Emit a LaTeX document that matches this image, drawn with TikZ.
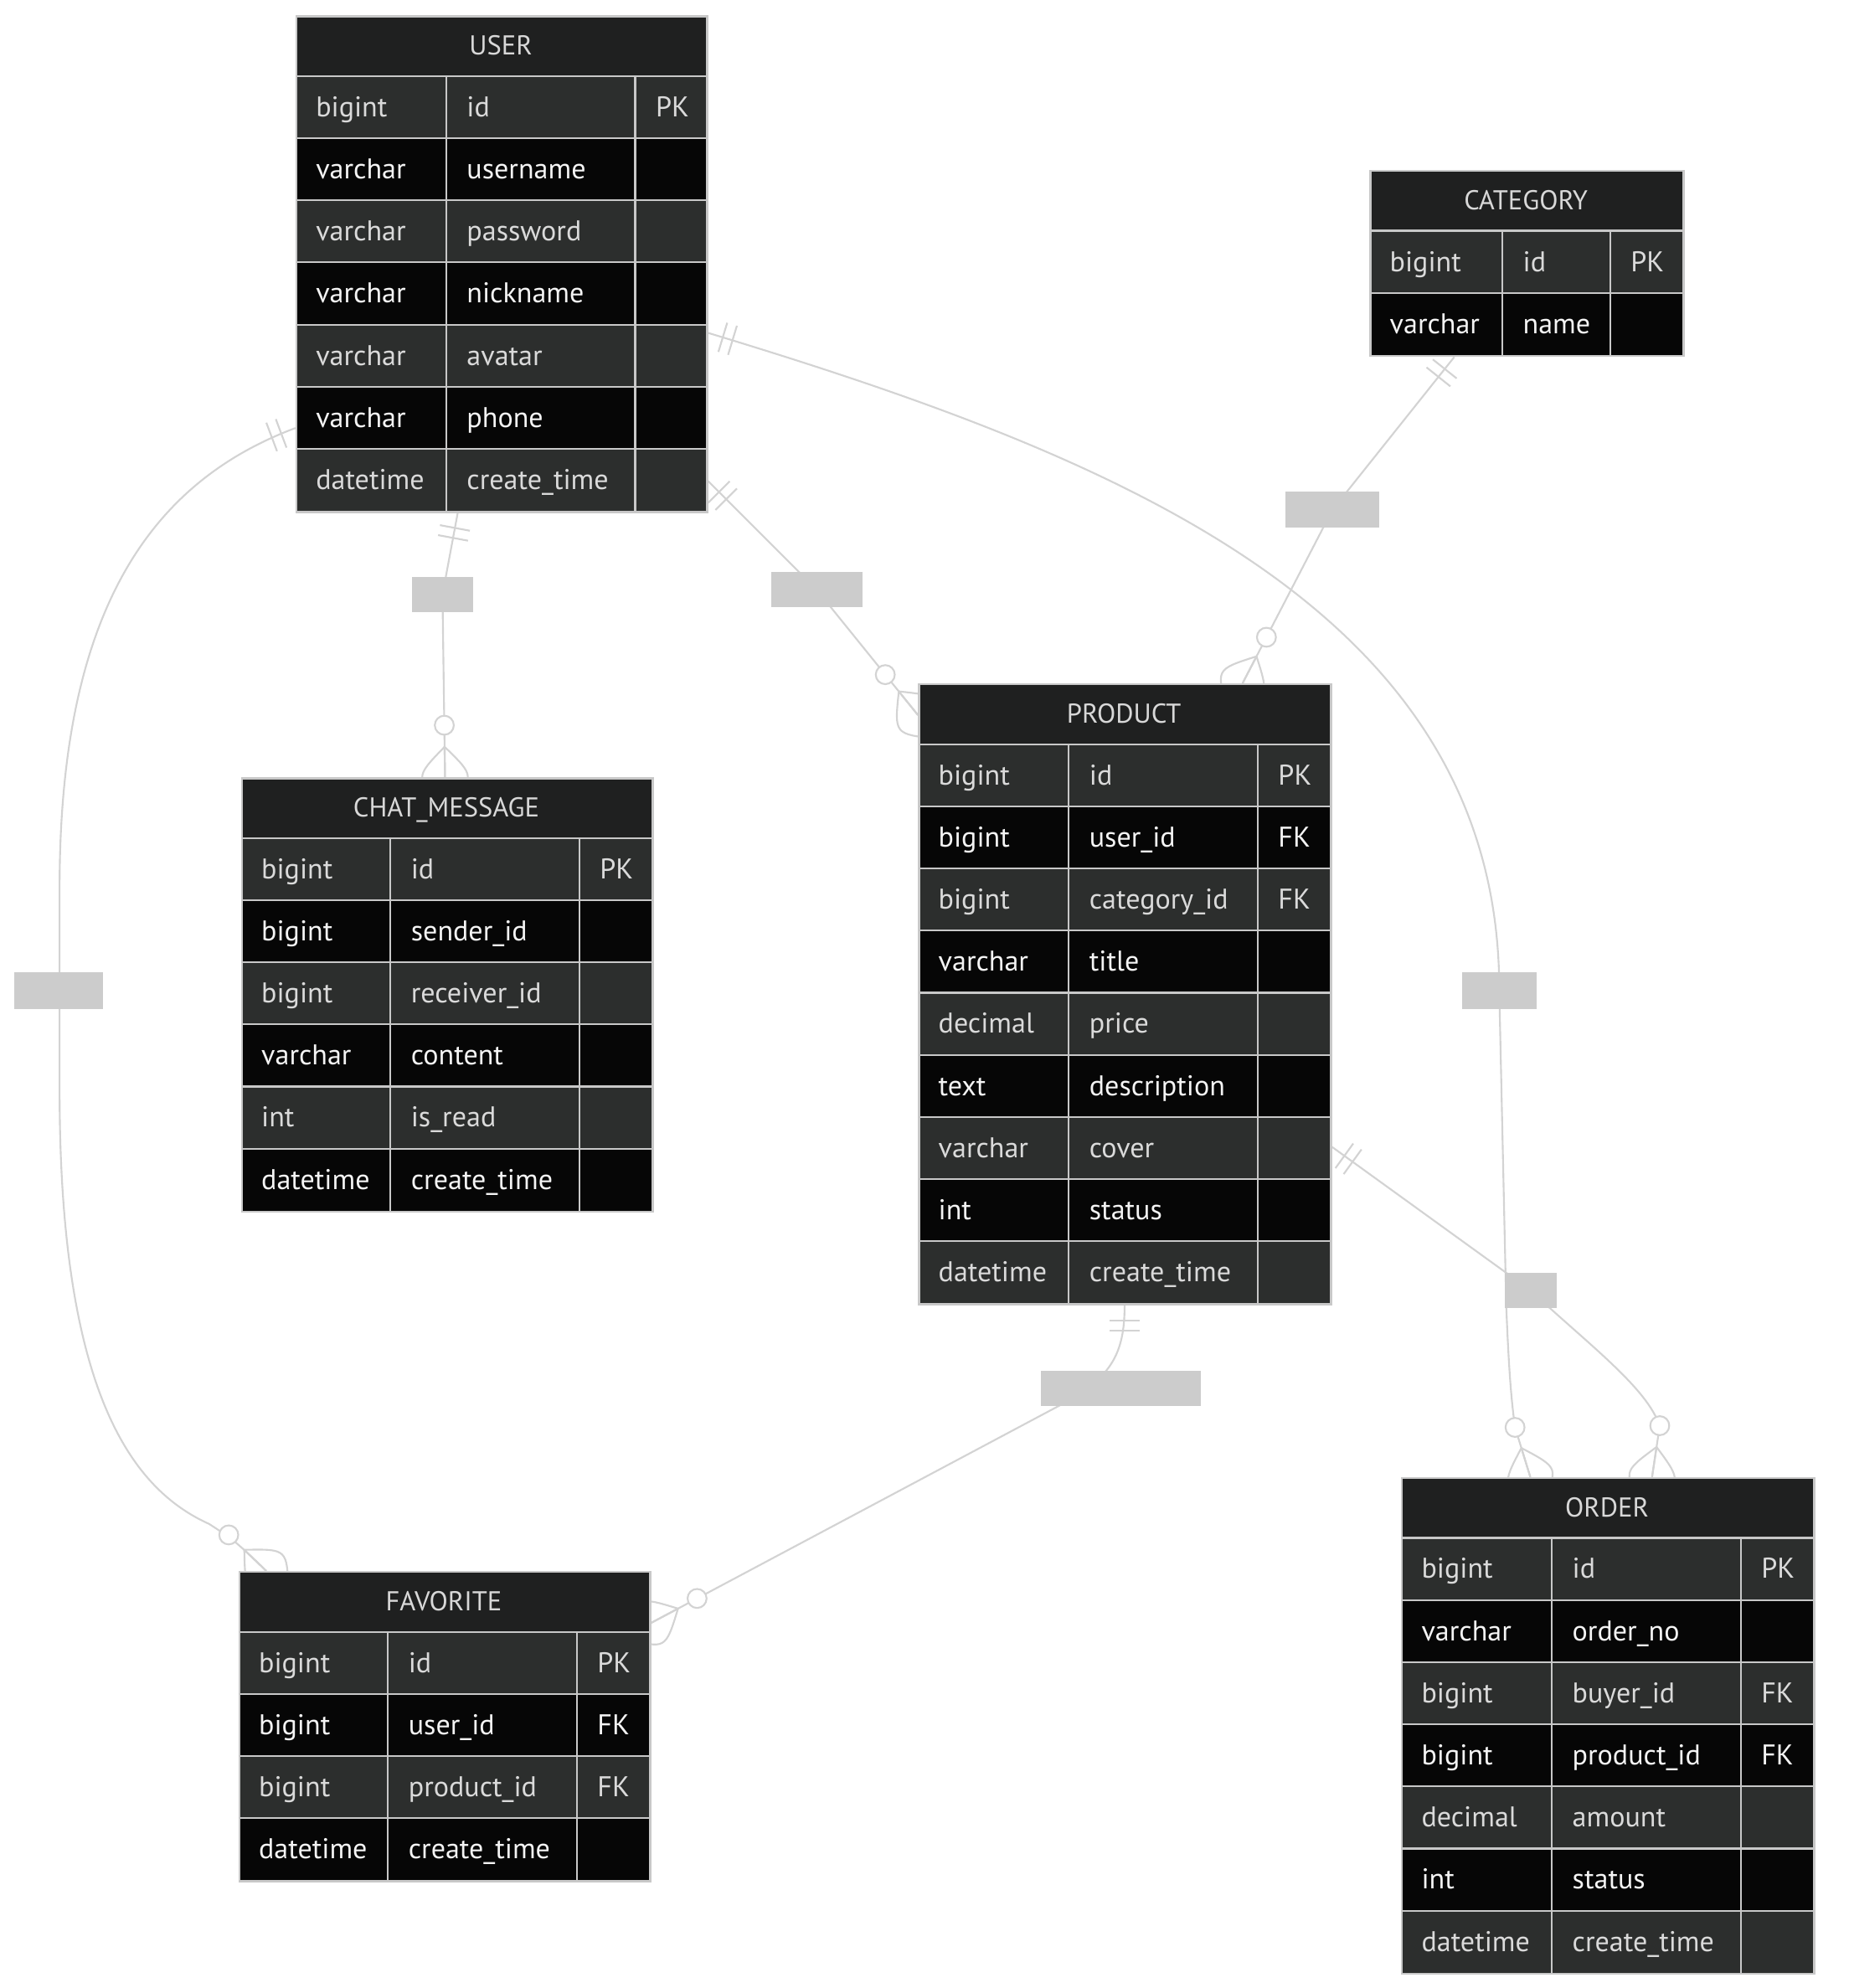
\documentclass[tikz,border=0pt]{standalone}
\usepackage{fontspec}
\setmainfont{PT Sans}
\usetikzlibrary{calc}
\pgfdeclarelayer{back}
\pgfdeclarelayer{bg}
\pgfsetlayers{back,bg,main}
\definecolor{hdrbg}{HTML}{1F2020}
\definecolor{oddbg}{HTML}{2C2E2D}
\definecolor{evenbg}{HTML}{060606}
\definecolor{bordc}{HTML}{C8C8C8}
\definecolor{edgec}{HTML}{D3D3D3}
\definecolor{lblc}{HTML}{CCCCCC}
\definecolor{txtodd}{HTML}{DADADA}
\definecolor{txteven}{HTML}{F4F4F4}
\definecolor{ttlc}{HTML}{D8D8D8}
\tikzset{
  conn/.style={draw=edgec, line width=1.4pt},
  gridline/.style={draw=bordc, line width=1.4pt},
  tbox/.style={draw=bordc, line width=1.6pt, inner sep=0pt, rectangle},
  celltxt/.style={font=\fontsize{22.5}{27}\selectfont, inner sep=0pt, anchor=mid west},
  ttl/.style={font=\fontsize{21.5}{26}\selectfont, text=ttlc, inner sep=0pt, anchor=mid},
  lbl/.style={rectangle, fill=lblc, draw=none, inner sep=0pt}
}
\newcommand{\ertable}[9]{%
  \pgfmathsetmacro\tblw{#6-#2}%
  \pgfmathsetmacro\tblh{48+49*#7}%
  \pgfmathsetmacro\tblb{#3+\tblh}%
  \fill[hdrbg] (#2,#3) rectangle (#6,#3+48);
  \foreach \ta/\tb/\tc [count=\i] in {#9}{%
    \pgfmathsetmacro\yt{#3+48+49*(\i-1)}%
    \ifodd\i \def\rowbg{oddbg}\def\rowtx{txtodd}\else \def\rowbg{evenbg}\def\rowtx{txteven}\fi
    \fill[fill=\rowbg] (#2,\yt) rectangle (#6,\yt+49);
    \node[celltxt, text=\rowtx] (#1-a\i) at (#2+16,\yt+29.5) {\ta};
    \node[celltxt, text=\rowtx] (#1-b\i) at (#4+16,\yt+29.5) {\tb};
    \node[celltxt, text=\rowtx] (#1-c\i) at (#5+16,\yt+29.5) {\tc};
    \draw[gridline] (#2,\yt) -- (#6,\yt);
  }
  \draw[gridline] (#4,#3+48) -- (#4,\tblb);
  \draw[gridline] (#5,#3+48) -- (#5,\tblb);
  \node[tbox, minimum width=\tblw pt, minimum height=\tblh pt, anchor=north west] (#1) at (#2,#3) {};
  \node[ttl] (#1-title) at ({(#2+#6)/2},#3+29) {#8};
}
\newcommand{\onlyone}[2]{%
  \coordinate (mkd) at #2;
  \coordinate (mka) at ($(#1)!12pt!(mkd)$);
  \coordinate (mkb) at ($(#1)!20pt!(mkd)$);
  \draw[conn] ($(mka)!12pt!90:(mkd)$) -- ($(mka)!12pt!-90:(mkd)$);
  \draw[conn] ($(mkb)!12pt!90:(mkd)$) -- ($(mkb)!12pt!-90:(mkd)$);
}
\newcommand{\zeromany}[2]{%
  \coordinate (mkd) at #2;
  \coordinate (mka) at ($(#1)!24pt!(mkd)$);
  \coordinate (mkf) at ($(#1)!-24pt!(mkd)$);
  \draw[conn] (mka) .. controls ($(#1)!24pt!90:(mkd)$) .. (mkf);
  \draw[conn] (mka) .. controls ($(#1)!24pt!-90:(mkd)$) .. (mkf);
  \draw[conn] (mka) -- (#1);
  \draw[conn, fill=white] ($(#1)!41pt!(mkd)$) circle[radius=7.5pt];
}
\begin{document}
\begin{tikzpicture}[x=1pt,y=-1pt]
\useasboundingbox (0,0) rectangle (1458,1568);
\begin{pgfonlayer}{back}
  \fill[white] (0,0) rectangle (1458,1568);
\end{pgfonlayer}

% ---------- tables ----------
\ertable{USER}{233}{12}{352}{501}{557}{7}{USER}{bigint/id/PK, varchar/username/{}, varchar/password/{}, varchar/nickname/{}, varchar/avatar/{}, varchar/phone/{}, datetime/create\_time/{}}
\ertable{CATEGORY}{1080}{134}{1185}{1270}{1327}{2}{CATEGORY}{bigint/id/PK, varchar/name/{}}
\ertable{CHAT}{190}{613}{308}{457}{514}{6}{CHAT\_MESSAGE}{bigint/id/PK, bigint/sender\_id/{}, bigint/receiver\_id/{}, varchar/content/{}, int/is\_read/{}, datetime/create\_time/{}}
\ertable{PRODUCT}{724}{539}{843}{992}{1049}{9}{PRODUCT}{bigint/id/PK, bigint/user\_id/FK, bigint/category\_id/FK, varchar/title/{}, decimal/price/{}, text/description/{}, varchar/cover/{}, int/status/{}, datetime/create\_time/{}}
\ertable{FAVORITE}{188}{1239}{306}{455}{512}{4}{FAVORITE}{bigint/id/PK, bigint/user\_id/FK, bigint/product\_id/FK, datetime/create\_time/{}}
\ertable{ORDER}{1105}{1165}{1224}{1373}{1430}{7}{ORDER}{bigint/id/PK, varchar/order\_no/{}, bigint/buyer\_id/FK, bigint/product\_id/FK, decimal/amount/{}, int/status/{}, datetime/create\_time/{}}

% ---------- relation labels ----------
\node[lbl, minimum width=48pt, minimum height=28pt] (l1) at (349,469) {};
\node[lbl, minimum width=72pt, minimum height=28pt] (l2) at (644,465) {};
\node[lbl, minimum width=74pt, minimum height=28pt] (l3) at (1051,402) {};
\node[lbl, minimum width=59pt, minimum height=29pt] (l4) at (1182.5,781.5) {};
\node[lbl, minimum width=70pt, minimum height=29pt] (l5) at (46,781.5) {};
\node[lbl, minimum width=126pt, minimum height=28pt] (l6) at (884,1095) {};
\node[lbl, minimum width=41pt, minimum height=28pt] (l7) at (1207.5,1018) {};

% ---------- connector end points ----------
\coordinate (u1) at ([xshift=128pt]USER.south west);
\coordinate (u2) at ([yshift=25pt]USER.south east);
\coordinate (u4) at ([yshift=142pt]USER.south east);
\coordinate (u5) at ([yshift=67pt]USER.south west);
\coordinate (k1) at ([xshift=67pt]CATEGORY.south west);
\coordinate (p2) at ([yshift=-25pt]PRODUCT.north west);
\coordinate (p3) at ([xshift=256pt]PRODUCT.north west);
\coordinate (p6) at ([xshift=163pt]PRODUCT.south west);
\coordinate (p7) at ([yshift=125pt]PRODUCT.south east);
\coordinate (c1) at ([xshift=161pt]CHAT.north west);
\coordinate (f1) at ([xshift=22pt]FAVORITE.north west);
\coordinate (f2) at ([yshift=-41pt]FAVORITE.north east);
\coordinate (o1) at ([xshift=102pt]ORDER.north west);
\coordinate (o2) at ([xshift=198pt]ORDER.north west);

% ---------- connectors ----------
\begin{pgfonlayer}{bg}
  % USER -- CHAT_MESSAGE
  \draw[conn] (u1) -- (l1.center) -- (c1);
  \onlyone{u1}{(l1.center)}
  \zeromany{c1}{(l1.center)}
  % USER -- PRODUCT
  \draw[conn] (u2) -- (l2.center) -- (p2);
  \onlyone{u2}{(l2.center)}
  \zeromany{p2}{(l2.center)}
  % CATEGORY -- PRODUCT
  \draw[conn] (k1) -- (l3.center) -- (p3);
  \onlyone{k1}{(l3.center)}
  \zeromany{p3}{(l3.center)}
  % USER -- ORDER
  \draw[conn] (u4) .. controls (880,360) and (1183,480) .. (l4.center) -- (1188,1030) .. controls (1190,1080) and (1192,1105) .. (1195,1126) -- (o1);
  \onlyone{u4}{(880,360)}
  \zeromany{o1}{(1195,1126)}
  % USER -- FAVORITE
  \draw[conn] (u5) .. controls (120,380) and (47,480) .. (47,700) -- (47,860) .. controls (47,1100) and (105,1175) .. (165,1202) .. controls (185,1215) .. (f1);
  \onlyone{u5}{(120,380)}
  \zeromany{f1}{(185,1215)}
  % PRODUCT -- FAVORITE
  \draw[conn] (p6) .. controls (887,1070) and (875,1088) .. (833,1110) -- (f2);
  \onlyone{p6}{(887,1070)}
  \zeromany{f2}{(833,1110)}
  % PRODUCT -- ORDER
  \draw[conn] (p7) -- (l7.center) .. controls (1250,1058) and (1300,1095) .. (1309,1125) -- (o2);
  \onlyone{p7}{(l7.center)}
  \zeromany{o2}{(1309,1125)}
\end{pgfonlayer}
\end{tikzpicture}
\end{document}
